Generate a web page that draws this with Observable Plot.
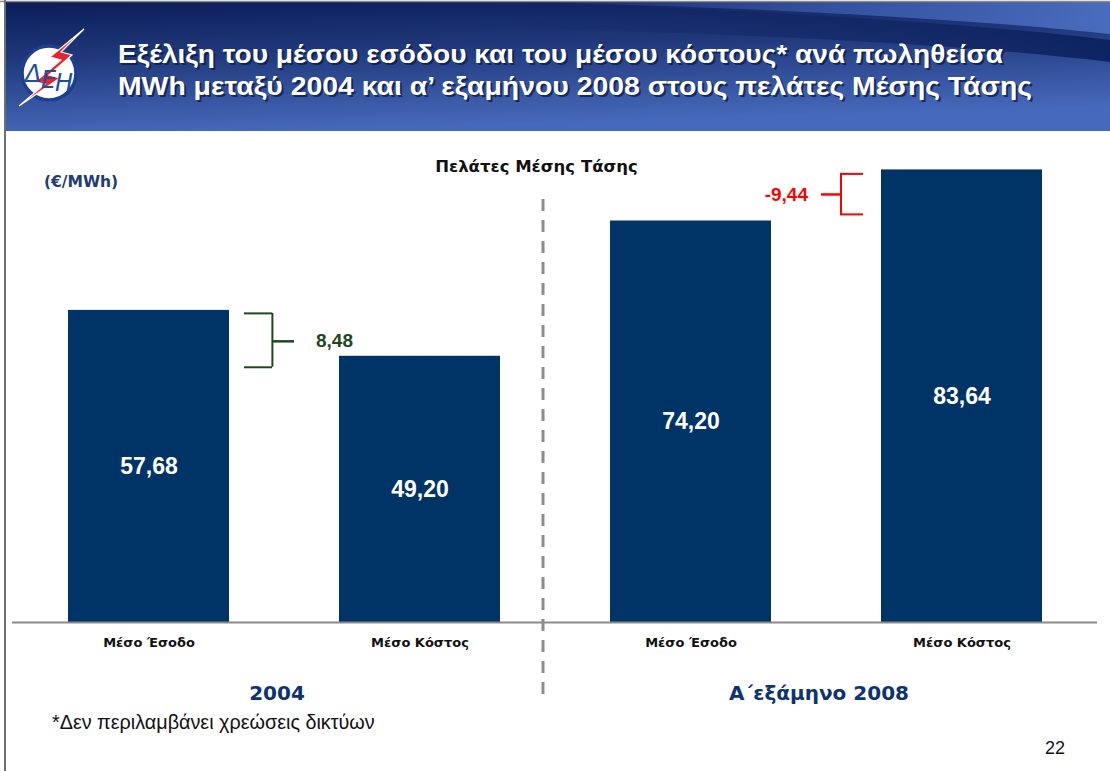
<!DOCTYPE html>
<html>
<head>
<meta charset="utf-8">
<script src="https://cdn.jsdelivr.net/npm/d3@7"></script>
<script src="https://cdn.jsdelivr.net/npm/@observablehq/plot@0.6"></script>
<style>
  body { margin: 0; background: #fff; }
  #page { position: relative; width: 1110px; height: 771px; overflow: hidden; background: #fff; font-family: "Liberation Sans", Arial, sans-serif; }
  .abs { position: absolute; white-space: nowrap; }
</style>
</head>
<body>
<div id="page">
  <svg class="abs" style="left:0;top:0" width="1110" height="132" xmlns="http://www.w3.org/2000/svg">
    <defs>
      <linearGradient id="hg" x1="0" y1="0" x2="0.25" y2="1">
        <stop offset="0" stop-color="#0a1d5a"/>
        <stop offset="0.4" stop-color="#1f3779"/>
        <stop offset="1" stop-color="#4769bb"/>
      </linearGradient>
      <linearGradient id="sw" x1="0" y1="0" x2="1" y2="0">
        <stop offset="0" stop-color="#4a6bbd" stop-opacity="0"/>
        <stop offset="0.6" stop-color="#3f60b0" stop-opacity="0.8"/>
        <stop offset="1" stop-color="#4a6cbe" stop-opacity="1"/>
      </linearGradient>
      <linearGradient id="dk" x1="0" y1="0" x2="1" y2="0">
        <stop offset="0" stop-color="#0b1f5c" stop-opacity="0"/>
        <stop offset="1" stop-color="#0b1f5c" stop-opacity="0.9"/>
      </linearGradient>
    </defs>
    <rect x="6" y="2" width="1104" height="129" fill="url(#hg)"/>
    <path d="M500,2 C760,10 960,22 1110,40 L1110,62 C960,44 760,34 500,28 Z" fill="url(#dk)"/>
    <path d="M520,2 C780,8 980,20 1110,34 L1110,2 Z" fill="url(#sw)"/>
    <line x1="0" y1="1.5" x2="1110" y2="1.5" stroke="#8a8a8a" stroke-width="1.5"/>
    <!-- logo -->
    <circle cx="49" cy="73" r="27" fill="#ffffff" stroke="#1d3f8f" stroke-width="3.5"/>
    <polygon points="84,29 50,57 61,60 35,82 45,84 19,106 60,78 49,75 72,55 61,52" fill="#e8242b" stroke="#ffffff" stroke-width="1.2"/>
    <g font-family="DejaVu Sans" font-style="italic" font-size="24" fill="#1c4fa3">
      <text x="25" y="82">Δ</text>
      <text x="41" y="88">Ε</text>
      <text x="55" y="91">Η</text>
    </g>
    <!-- title -->
    <g font-family="Liberation Sans, Arial, sans-serif" font-weight="bold" font-size="26">
      <text x="120" y="65" textLength="885" lengthAdjust="spacingAndGlyphs" fill="#0a1a40" fill-opacity="0.75">Εξέλιξη του μέσου εσόδου και του μέσου κόστους* ανά πωληθείσα</text>
      <text x="120" y="97" textLength="914" lengthAdjust="spacingAndGlyphs" fill="#0a1a40" fill-opacity="0.75">MWh μεταξύ 2004 και  α’ εξαμήνου 2008 στους πελάτες Μέσης Τάσης</text>
      <text x="118" y="63" textLength="885" lengthAdjust="spacingAndGlyphs" fill="#ffffff">Εξέλιξη του μέσου εσόδου και του μέσου κόστους* ανά πωληθείσα</text>
      <text x="118" y="95" textLength="914" lengthAdjust="spacingAndGlyphs" fill="#ffffff">MWh μεταξύ 2004 και  α’ εξαμήνου 2008 στους πελάτες Μέσης Τάσης</text>
    </g>
  </svg>
  <div class="abs" style="left:4px;top:0;width:1.5px;height:771px;background:#6f6f6f"></div>
  <div id="chart" class="abs" style="left:0;top:131px"></div>
  <div class="abs" style="left:44px;top:172px;line-height:20px;font-family:'DejaVu Sans';font-weight:bold;font-size:15.5px;color:#1f3d72">(€/MWh)</div>
  <div class="abs" style="left:0;width:1073px;text-align:center;top:157px;line-height:20px;font-family:'DejaVu Sans';font-weight:bold;font-size:16.5px;color:#111">Πελάτες Μέσης Τάσης</div>
  <div class="abs" style="left:52px;top:711px;line-height:22px;font-size:19.8px;color:#111">*Δεν περιλαμβάνει χρεώσεις δικτύων</div>
  <div class="abs" style="left:1045px;top:738px;line-height:20px;font-size:18px;color:#111">22</div>
</div>
<script>
// ---- data ----
const periods = ["2004", "2004", "Α΄εξάμηνο 2008", "Α΄εξάμηνο 2008"];
const measures = ["Μέσο Έσοδο", "Μέσο Κόστος", "Μέσο Έσοδο", "Μέσο Κόστος"];
const values = [57.68, 49.20, 74.20, 83.64];
const groups = ["2004", "Α΄εξάμηνο 2008"];
const gaps = [8.48, -9.44];

const fmt = v => d3.format(".2f")(v).replace(".", ",").replace("−", "-");
const rows = periods.map((p, i) => ({key: p + "|" + measures[i], period: p, measure: measures[i], value: values[i]}));
const keys = rows.map(d => d.key);
const groupKeys = groups.map(g => keys[periods.indexOf(g)]);

const green = {key: keys[0], top: values[0], bottom: values[1], mid: (values[0] + values[1]) / 2, label: fmt(gaps[0])};
const red = {key: keys[3], top: values[3], bottom: values[2], mid: (values[3] + values[2]) / 2, label: fmt(gaps[1])};

const NAVY = "#003366", GREEN = "#1d4a1d", RED = "#ff0000";
const ARIAL = "Liberation Sans, Arial, sans-serif";
const VERD = "DejaVu Sans, Verdana, sans-serif";

const chart = Plot.plot({
  width: 1110,
  height: 640,
  marginLeft: 12,
  marginRight: 13,
  marginTop: 4,
  marginBottom: 149,
  x: {domain: keys, paddingInner: 0.406, paddingOuter: 0.203, axis: null},
  y: {domain: [0, 90], axis: null},
  style: {background: "transparent", overflow: "visible"},
  marks: [
    Plot.barY(rows, {x: "key", y: "value", fill: NAVY}),
    Plot.ruleY([0], {stroke: "#8a8a8a", strokeWidth: 2}),
    Plot.text(rows, {x: "key", y: d => d.value / 2, text: d => fmt(d.value), fill: "white", fontSize: 23, fontWeight: "bold", fontFamily: ARIAL}),
    Plot.text(rows, {x: "key", y: () => 0, text: "measure", dy: 20, fill: "#111", fontSize: 13, fontWeight: "bold", fontFamily: VERD}),
    Plot.text(groups, {x: groupKeys, y: () => 0, text: d => d, dx: 128, dy: 71, fill: "#0d3371", fontSize: 20, fontWeight: "bold", fontFamily: VERD}),
    Plot.ruleX([keys[1]], {x: d => d, dx: 123, insetTop: 64, insetBottom: -80, stroke: "#8c8c8c", strokeWidth: 3, strokeDasharray: "12 9"}),
    // bracket 2004
    Plot.ruleX([green], {x: "key", y1: "top", y2: "bottom", dx: 123.4, insetTop: 3, insetBottom: -11, stroke: GREEN, strokeWidth: 2}),
    Plot.tickY([green], {x: "key", y: "top", dy: 3, insetLeft: 176, insetRight: -43, stroke: GREEN, strokeWidth: 2}),
    Plot.tickY([green], {x: "key", y: "bottom", dy: 11, insetLeft: 176, insetRight: -43, stroke: GREEN, strokeWidth: 2}),
    Plot.tickY([green], {x: "key", y: "mid", dy: 8, insetLeft: 204, insetRight: -65, stroke: GREEN, strokeWidth: 2.5}),
    Plot.text([green], {x: "key", y: "mid", dy: 8, dx: 167, text: "label", textAnchor: "start", fill: GREEN, fontSize: 19, fontWeight: "bold", fontFamily: ARIAL}),
    // bracket 2008
    Plot.ruleX([red], {x: "key", y1: "top", y2: "bottom", dx: -121, insetTop: 4, insetBottom: 6.6, stroke: RED, strokeWidth: 2}),
    Plot.tickY([red], {x: "key", y: "top", dy: 4, insetLeft: -41, insetRight: 179, stroke: RED, strokeWidth: 2}),
    Plot.tickY([red], {x: "key", y: "bottom", dy: -6.6, insetLeft: -41, insetRight: 179, stroke: RED, strokeWidth: 2}),
    Plot.tickY([red], {x: "key", y: "mid", dy: -1, insetLeft: -60, insetRight: 202, stroke: RED, strokeWidth: 2.5}),
    Plot.text([red], {x: "key", y: "mid", dy: -1, dx: -154, text: "label", textAnchor: "end", fill: RED, fontSize: 19, fontWeight: "bold", fontFamily: ARIAL})
  ]
});
document.getElementById("chart").appendChild(chart);
</script>
</body>
</html>
